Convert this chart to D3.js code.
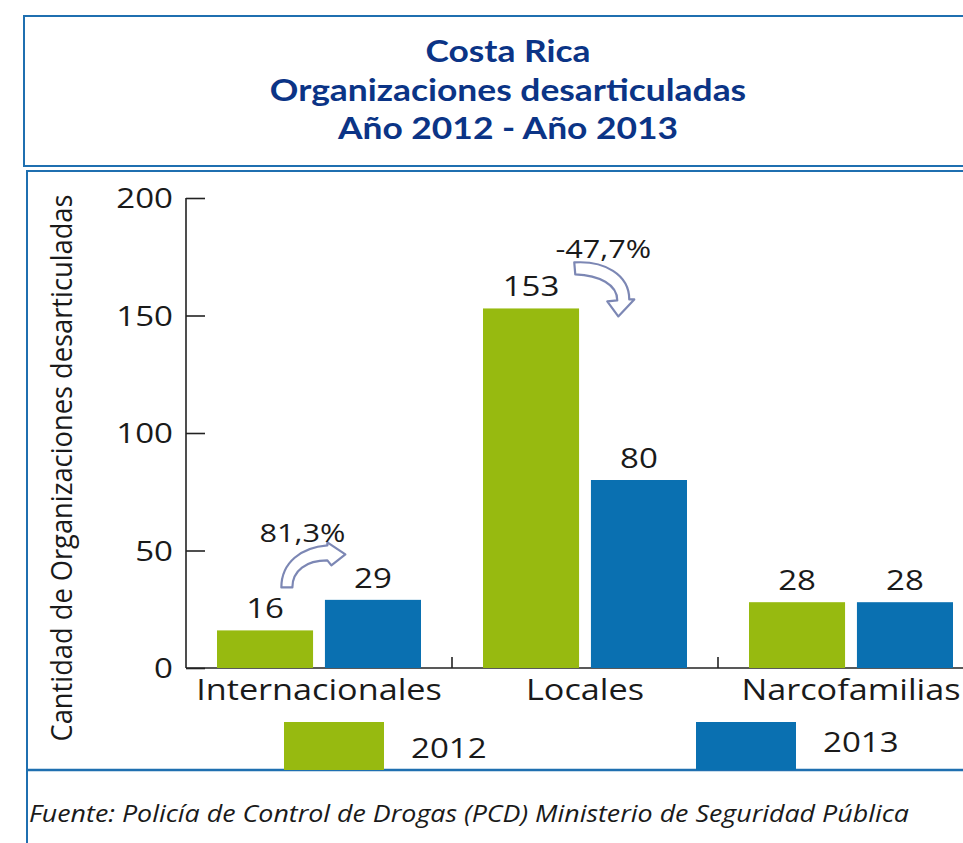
<!DOCTYPE html>
<html>
<head>
<meta charset="utf-8">
<script src="https://cdn.jsdelivr.net/npm/d3@7"></script>
<style>
  body { margin: 0; background: #fff; }
  svg { display: block; }
</style>
</head>
<body>
<div id="chart"></div>
<script>
// Costa Rica - Organizaciones desarticuladas, 2012 vs 2013

var categories = ["Internacionales", "Locales", "Narcofamilias"];
var years = ["2012", "2013"];
var values2012 = [16, 153, 28];
var values2013 = [29, 80, 28];
var yTicks = [0, 50, 100, 150, 200];
var titleLines = ["Costa Rica", "Organizaciones desarticuladas", "Año 2012 - Año 2013"];
var changeLabels = ["81,3%", "-47,7%"];   // Internacionales, Locales
var changeCats = ["Internacionales", "Locales"];

var width = 963, height = 843;
var green = "#97ba10", blue = "#0a70b1", frame = "#1f6fb0", navy = "#0b3486";
var sx = 1.18;   // the original art is a little stretched sideways

var svg = d3.select("#chart").append("svg")
    .attr("width", width)
    .attr("height", height);

var rows = [];
categories.forEach(function(c, i) {
    rows.push({cat: c, year: "2012", value: values2012[i]});
    rows.push({cat: c, year: "2013", value: values2013[i]});
});

// place a text with translate + horizontal stretch
function at(x, y) {
    return "translate(" + x + "," + y + ") scale(" + sx + ",1)";
}

//////////////////////////////////////////// frames
svg.append("rect")
    .attr("x", 24).attr("y", 16)
    .attr("width", width + 20).attr("height", 150)
    .attr("fill", "none").attr("stroke", frame).attr("stroke-width", 2);

svg.append("path")
    .attr("d", "M" + (width + 10) + ",171 H27 V" + (height + 10))
    .attr("fill", "none").attr("stroke", frame).attr("stroke-width", 2);

svg.append("line")
    .attr("x1", 27).attr("x2", width)
    .attr("y1", 770).attr("y2", 770)
    .attr("stroke", frame).attr("stroke-width", 2.5);

//////////////////////////////////////////// title
svg.append("g").selectAll("text")
    .data(titleLines).enter().append("text")
    .attr("transform", function(d, i) { return at(508, [62, 101, 139][i]); })
    .attr("text-anchor", "middle")
    .attr("font-family", "Lato, 'Open Sans', sans-serif")
    .attr("font-weight", "bold")
    .attr("font-size", 30)
    .attr("fill", navy)
    .text(function(d) { return d; });

//////////////////////////////////////////// scales
var yScale = d3.scaleLinear().domain([0, 200]).range([668, 198]);
var xScale = d3.scaleBand().domain(categories).range([186, 984]).paddingInner(0).paddingOuter(0);
var xSub = d3.scaleBand().domain(years).range([31, 235]).paddingInner(0.11);
var color = d3.scaleOrdinal().domain(years).range([green, blue]);

//////////////////////////////////////////// axes
var yAxis = d3.axisRight(yScale).tickValues(yTicks).tickSize(19).tickFormat("");
var gy = svg.append("g")
    .attr("transform", "translate(186,0)")
    .call(yAxis);
gy.select(".domain").attr("d", "M0,198 V668").attr("stroke", "#222").attr("stroke-width", 1.6);
gy.selectAll(".tick line").attr("stroke", "#222").attr("stroke-width", 1.6);

svg.append("g").selectAll("text")
    .data(yTicks).enter().append("text")
    .attr("transform", function(d) { return at(173, yScale(d) + 10); })
    .attr("text-anchor", "end")
    .attr("font-family", "'Open Sans', sans-serif")
    .attr("font-size", 28)
    .attr("fill", "#1a1a1a")
    .text(function(d) { return d; });

// x baseline with inward ticks at category boundaries
svg.append("line")
    .attr("x1", 186).attr("x2", width)
    .attr("y1", yScale(0)).attr("y2", yScale(0))
    .attr("stroke", "#222").attr("stroke-width", 1.6);

svg.append("g").selectAll("line")
    .data(categories.slice(1)).enter().append("line")
    .attr("x1", function(d) { return xScale(d); })
    .attr("x2", function(d) { return xScale(d); })
    .attr("y1", yScale(0)).attr("y2", yScale(0) - 11)
    .attr("stroke", "#222").attr("stroke-width", 1.6);

svg.append("g").selectAll("text")
    .data(categories).enter().append("text")
    .attr("transform", function(d) { return at(xScale(d) + 133, 700); })
    .attr("text-anchor", "middle")
    .attr("font-family", "'Open Sans', sans-serif")
    .attr("font-size", 29)
    .attr("fill", "#1a1a1a")
    .text(function(d) { return d; });

// y axis title
svg.append("text")
    .attr("transform", "translate(72,468) rotate(-90)")
    .attr("text-anchor", "middle")
    .attr("font-family", "'Open Sans', sans-serif")
    .attr("font-size", 30)
    .attr("fill", "#1a1a1a")
    .attr("textLength", 547)
    .attr("lengthAdjust", "spacingAndGlyphs")
    .text("Cantidad de Organizaciones desarticuladas");

//////////////////////////////////////////// bars
svg.append("g").selectAll("rect")
    .data(rows).enter().append("rect")
    .attr("x", function(d) { return xScale(d.cat) + xSub(d.year); })
    .attr("y", function(d) { return yScale(d.value); })
    .attr("width", xSub.bandwidth())
    .attr("height", function(d) { return yScale(0) - yScale(d.value); })
    .attr("fill", function(d) { return color(d.year); });

svg.append("g").selectAll("text")
    .data(rows).enter().append("text")
    .attr("transform", function(d) {
        return at(xScale(d.cat) + xSub(d.year) + xSub.bandwidth() / 2, yScale(d.value) - 12);
    })
    .attr("text-anchor", "middle")
    .attr("font-family", "'Open Sans', sans-serif")
    .attr("font-size", 28)
    .attr("fill", "#1a1a1a")
    .text(function(d) { return d.value; });

//////////////////////////////////////////// change arrows
var arrowUp = "M0,0 C0,-25 20,-40 46,-42 L46,-45 L64,-33 L50,-22 L46,-27 C25,-27 11,-17 11,0 Z";
var arrowDown = "M0,0 C30,-2 55,12 55,37 L60,37 L44,54 L33,39 L43,38 C43,22 25,13 1,12 Z";

function barTop(cat, year) {
    var i = categories.indexOf(cat);
    return yScale(year === "2012" ? values2012[i] : values2013[i]);
}
function barLeft(cat, year) {
    return xScale(cat) + xSub(year);
}

var ax1 = barLeft(changeCats[0], "2012") + xSub.bandwidth() * 0.67;
var ay1 = barTop(changeCats[0], "2012") - 43;
var ax2 = barLeft(changeCats[1], "2012") + xSub.bandwidth() * 0.95;
var ay2 = barTop(changeCats[1], "2012") - 46;

svg.append("path")
    .attr("d", arrowUp)
    .attr("transform", "translate(" + ax1 + "," + ay1 + ")")
    .attr("fill", "#fff").attr("stroke", "#7c87b4").attr("stroke-width", 2.2)
    .attr("stroke-linejoin", "round");
svg.append("path")
    .attr("d", arrowDown)
    .attr("transform", "translate(" + ax2 + "," + ay2 + ")")
    .attr("fill", "#fff").attr("stroke", "#7c87b4").attr("stroke-width", 2.2)
    .attr("stroke-linejoin", "round");

svg.append("text")
    .attr("transform", at(ax1 + 21, ay1 - 45))
    .attr("text-anchor", "middle")
    .attr("font-family", "'Open Sans', sans-serif")
    .attr("font-size", 26)
    .attr("fill", "#1a1a1a")
    .text(changeLabels[0]);
svg.append("text")
    .attr("transform", at(ax2 + 29, ay2 - 4))
    .attr("text-anchor", "middle")
    .attr("font-family", "'Open Sans', sans-serif")
    .attr("font-size", 26)
    .attr("fill", "#1a1a1a")
    .text(changeLabels[1]);

//////////////////////////////////////////// legend
var legX = d3.scaleOrdinal().domain(years).range([284, 696]);
var leg = svg.append("g").selectAll("g")
    .data(years).enter().append("g");
leg.append("rect")
    .attr("x", function(d) { return legX(d); })
    .attr("y", 722)
    .attr("width", 100).attr("height", 48)
    .attr("fill", function(d) { return color(d); });
leg.append("text")
    .attr("transform", function(d, i) { return at(legX(d) + 127, i === 0 ? 758 : 752); })
    .attr("font-family", "'Open Sans', sans-serif")
    .attr("font-size", 28)
    .attr("fill", "#1a1a1a")
    .text(function(d) { return d; });

//////////////////////////////////////////// source
svg.append("text")
    .attr("x", 29).attr("y", 822)
    .attr("font-family", "'Open Sans', sans-serif")
    .attr("font-style", "italic")
    .attr("font-size", 23)
    .attr("fill", "#1a1a1a")
    .attr("textLength", 880)
    .attr("lengthAdjust", "spacingAndGlyphs")
    .text("Fuente: Policía de Control de Drogas (PCD) Ministerio de Seguridad Pública");
</script>
</body>
</html>
